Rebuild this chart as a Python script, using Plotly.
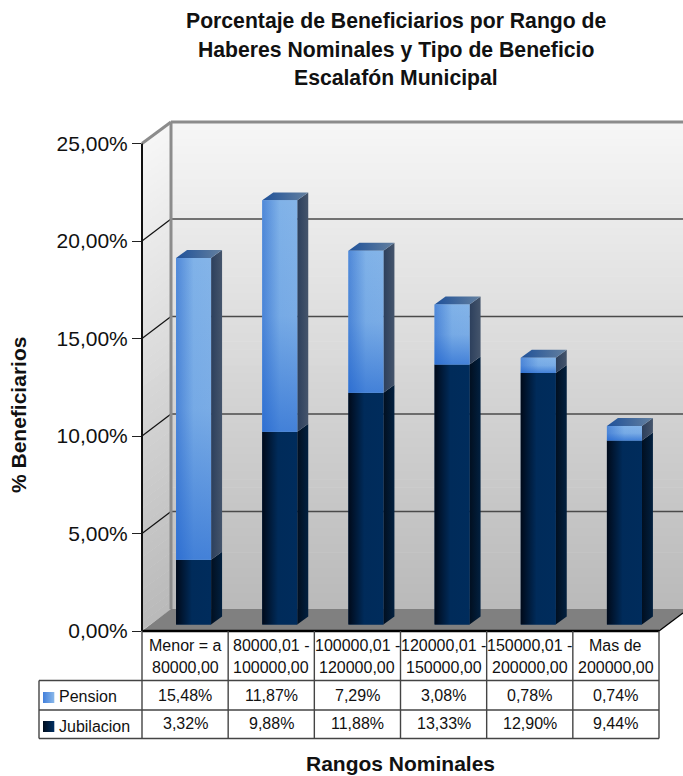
import plotly.graph_objects as go

categories = ["Menor = a<br>80000,00", "80000,01 -<br>100000,00", "100000,01 -<br>120000,00",
              "120000,01 -<br>150000,00", "150000,01 -<br>200000,00", "Mas de<br>200000,00"]
pension = [15.48, 11.87, 7.29, 3.08, 0.78, 0.74]
jubilacion = [3.32, 9.88, 11.88, 13.33, 12.90, 9.44]
y_ticks = [0, 5, 10, 15, 20, 25]
y_tick_labels = ["0,00%", "5,00%", "10,00%", "15,00%", "20,00%", "25,00%"]
title_lines = ["Porcentaje de Beneficiarios por Rango de",
               "Haberes Nominales y Tipo de Beneficio",
               "Escalafón Municipal"]

W, H = 683, 776
L, R, T, B = 142, 683, 120, 631      # plot rectangle in page pixels
CAT = (659 - 142) / 6                # pixels per category
UNIT = (631 - 143.5) / 25            # pixels per percentage point
FONT = "Liberation Sans"


def px(x):
    return (x - L) / (R - L)


def py(y):
    return (B - y) / (B - T)


def lerp_color(c0, c1, t):
    return "rgb(%d,%d,%d)" % tuple(round(a + (b - a) * t) for a, b in zip(c0, c1))


shapes = []


def poly(points, color, layer="below"):
    path = "M " + " L ".join(f"{px(x):.5f},{py(y):.5f}" for x, y in points) + " Z"
    shapes.append(dict(type="path", xref="paper", yref="paper", path=path, fillcolor=color,
                       line=dict(width=0), layer=layer))


def seg(x0, y0, x1, y1, color, width, layer="below"):
    shapes.append(dict(type="line", xref="paper", yref="paper", x0=px(x0), y0=py(y0), x1=px(x1), y1=py(y1),
                       line=dict(color=color, width=width), layer=layer))


# walls: vertical gradient made of thin bands
TOP_C, BOT_C = (246, 246, 246), (186, 186, 186)
N = 60
for k in range(N):
    t = k / (N - 1)
    col = lerp_color(TOP_C, BOT_C, t)
    y0 = 122 + (609 - 122) * k / N
    y1 = 122 + (609 - 122) * (k + 1) / N + 0.6
    poly([(171, y0), (R, y0), (R, y1), (171, y1)], col)
    poly([(142, y0 + 21), (171, y0), (171, y1), (142, y1 + 21)], col)

# floor
poly([(142, 631), (171, 609), (R, 609), (R, 613), (659, 631)], "#808080")

# grid on the walls
for v in y_ticks[1:-1]:
    yf = B - v * UNIT
    seg(171, yf - 22, R, yf - 22, "#4a4a4a", 1.3)
    seg(142, yf, 171, yf - 22, "#111111", 1.2)

# frame of the back wall
seg(171, 122, 171, 609, "#8c8c8c", 3)
seg(171, 122, R, 122, "#8c8c8c", 3)
seg(142, 143.5, 171, 122, "#8c8c8c", 3)

# table
TABLE_COL = "#444444"
seg(142, 631, 659, 631, "#000000", 2.4, "above")
seg(659, 631, R, 613, "#000000", 1.3, "above")
for yy in (680.5, 710, 738.5):
    seg(39, yy, 659, yy, TABLE_COL, 1.4, "above")
seg(39, 680.5, 39, 738.5, TABLE_COL, 1.4, "above")
for k in range(7):
    xx = 142 + k * CAT
    seg(xx, 631, xx, 738.5, TABLE_COL, 1.4, "above")

# legend swatches in the table
for yy, c0, c1 in ((692, (70, 130, 220), (132, 180, 232)), (721, (0, 14, 32), (0, 45, 94))):
    for k in range(11):
        poly([(43 + k, yy), (44.3 + k, yy), (44.3 + k, yy + 11), (43 + k, yy + 11)],
             lerp_color(c0, c1, k / 10), "above")

annotations = []


def text(x, y, s, size=16, bold=False, anchor="center", angle=0):
    annotations.append(dict(xref="paper", yref="paper", x=px(x), y=py(y), text=f"<b>{s}</b>" if bold else s,
                            showarrow=False, xanchor=anchor, yanchor="middle", textangle=angle,
                            font=dict(family=FONT, size=size, color="#111111")))


for line, yy in zip(title_lines, (21, 50, 78)):
    text(396, yy, line, 21.2, True)
text(18, 415, "% Beneficiarios", 21, True, angle=-90)
text(400, 763, "Rangos Nominales", 21, True)

for i, cat in enumerate(categories):
    xc = 142 + (i + 0.5) * CAT
    for line, yy in zip(cat.split("<br>"), (645, 667)):
        text(xc, yy, line)
    text(xc, 695, f"{pension[i]:.2f}".replace(".", ",") + "%")
    text(xc, 723, f"{jubilacion[i]:.2f}".replace(".", ",") + "%")
text(57, 697, "Pension", anchor="left")
text(57, 726, "Jubilacion", anchor="left")

# 3D bars: offsets in axis units
BAR_W = 35 / CAT
SHIFT = 8.5 / CAT
FLOOR = 6.5 / UNIT
DX = 11 / CAT
DY = 8 / UNIT

xs = [i + 0.5 + SHIFT for i in range(len(categories))]
base_j = [FLOOR] * len(xs)
base_p = [FLOOR + j for j in jubilacion]

fig = go.Figure()
fig.add_bar(x=xs, y=jubilacion, base=base_j, width=BAR_W, name="Jubilacion", marker=dict(color="#002a58", line_width=0),
            hoverinfo="skip", showlegend=False)
fig.add_bar(x=xs, y=pension, base=base_p, width=BAR_W, name="Pension", marker=dict(color="#6fa5e4", line_width=0),
            hoverinfo="skip", showlegend=False)


def face(px_, py_, scale, kind, start, stop):
    fig.add_scatter(x=px_, y=py_, mode="lines", line=dict(width=0), fill="toself", hoverinfo="skip", showlegend=False,
                    fillgradient=dict(type=kind, colorscale=scale, start=start, stop=stop))


for i, x in enumerate(xs):
    x0, x1 = x - BAR_W / 2, x + BAR_W / 2
    b0 = base_j[i]
    b1 = base_p[i]
    b2 = b1 + pension[i]
    # jubilacion side and front
    face([x1, x1 + DX, x1 + DX, x1, x1], [b0, b0 + DY, b1 + DY, b1, b0],
         [[0, "#010f20"], [1, "#02203f"]], "horizontal", x1, x1 + DX)
    face([x0, x1, x1, x0, x0], [b0, b0, b1, b1, b0],
         [[0, "#000a1a"], [0.45, "#002b5a"], [1, "#002c5c"]], "horizontal", x0, x1)
    # pension side, top and front
    face([x1, x1 + DX, x1 + DX, x1, x1], [b1, b1 + DY, b2 + DY, b2, b1],
         [[0, "#2c3f5c"], [1, "#45556c"]], "horizontal", x1, x1 + DX)
    face([x0, x1, x1 + DX, x0 + DX, x0], [b2, b2, b2 + DY, b2 + DY, b2],
         [[0, "#1f5199"], [1, "#64809f"]], "horizontal", x0, x1 + DX)
    face([x0, x1, x1, x0, x0], [b1, b1, b2, b2, b1],
         [[0, "#4f88d8"], [0.5, "#80b2e8"], [1, "#84b4e8"]], "horizontal", x0, x1)
    face([x0, x1, x1, x0, x0], [b1, b1, b2, b2, b1],
         [[0, "rgba(25,95,205,0.6)"], [0.5, "rgba(25,95,205,0.1)"], [1, "rgba(25,95,205,0)"]], "vertical", b1, b2)

fig.update_layout(
    width=W, height=H, autosize=False, paper_bgcolor="white", plot_bgcolor="rgba(0,0,0,0)",
    margin=dict(l=L, r=W - R, t=T, b=H - B, pad=0),
    barmode="overlay", annotations=annotations, showlegend=False,
    xaxis=dict(range=[0, (R - L) / CAT], showgrid=False, zeroline=False, showline=False, showticklabels=False,
               ticks="", fixedrange=True),
    yaxis=dict(range=[0, (B - T) / UNIT], showgrid=False, zeroline=False, showline=False, tickvals=y_ticks,
               ticktext=y_tick_labels, ticks="outside", ticklen=9, tickwidth=1.3, tickcolor="#222222",
               tickfont=dict(family=FONT, size=21, color="#111111"), fixedrange=True),
)
seg(142, 143.5, 142, 631, "#111111", 2, "above")

fig.layout.shapes = tuple(shapes)
fig.write_html("out.html", config=dict(displayModeBar=False),
               post_script="document.body.style.margin='0';")
